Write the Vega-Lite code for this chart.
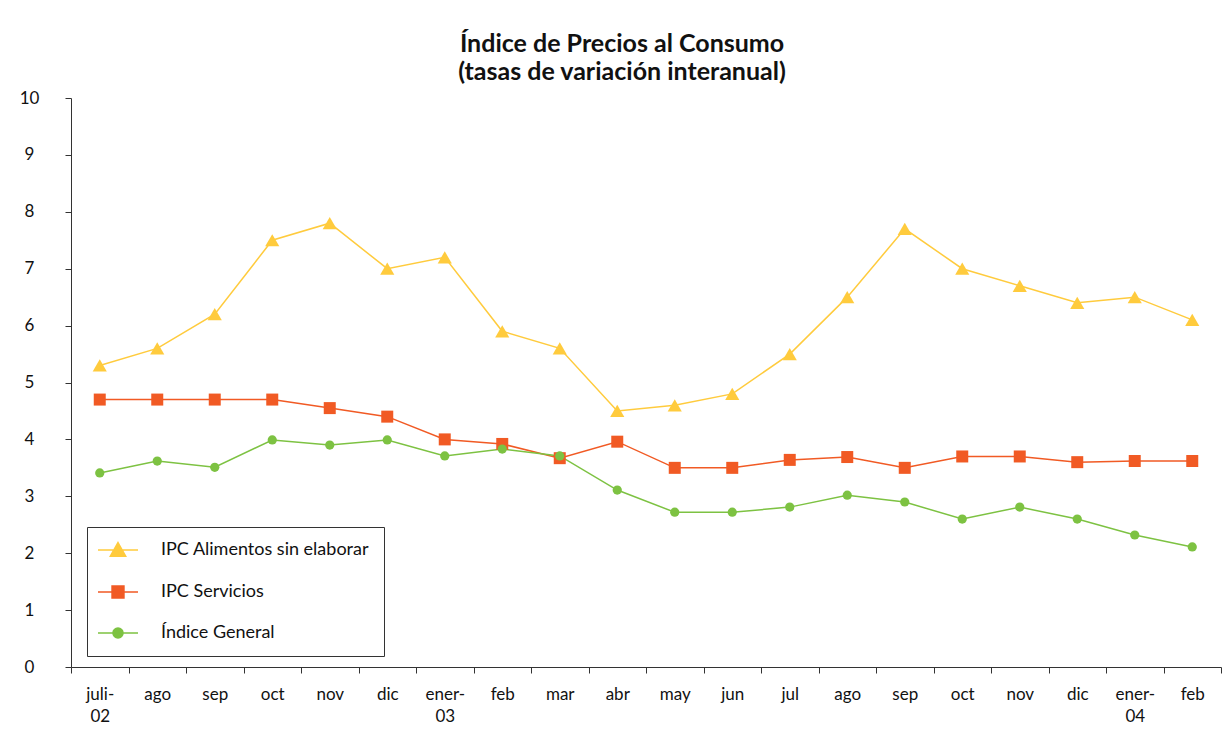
{
  "$schema": "https://vega.github.io/schema/vega-lite/v6.json",
  "width": 1150,
  "height": 569,
  "autosize": {"type": "none"},
  "padding": {"left": 71, "top": 98, "right": 5, "bottom": 62},
  "background": "white",
  "title": {
    "text": ["Índice de Precios al Consumo", "(tasas de variación interanual)"],
    "font": "Lato", "fontSize": 25, "fontWeight": "bold", "color": "#111",
    "lineHeight": 28, "anchor": "middle", "dx": -24, "offset": 4
  },
  "data": {"values": [
    {"mes": "juli-02", "serie": "IPC Alimentos sin elaborar", "v": 5.3},
    {"mes": "ago-02", "serie": "IPC Alimentos sin elaborar", "v": 5.6},
    {"mes": "sep-02", "serie": "IPC Alimentos sin elaborar", "v": 6.2},
    {"mes": "oct-02", "serie": "IPC Alimentos sin elaborar", "v": 7.5},
    {"mes": "nov-02", "serie": "IPC Alimentos sin elaborar", "v": 7.8},
    {"mes": "dic-02", "serie": "IPC Alimentos sin elaborar", "v": 7.0},
    {"mes": "ener-03", "serie": "IPC Alimentos sin elaborar", "v": 7.2},
    {"mes": "feb-03", "serie": "IPC Alimentos sin elaborar", "v": 5.9},
    {"mes": "mar-03", "serie": "IPC Alimentos sin elaborar", "v": 5.6},
    {"mes": "abr-03", "serie": "IPC Alimentos sin elaborar", "v": 4.5},
    {"mes": "may-03", "serie": "IPC Alimentos sin elaborar", "v": 4.6},
    {"mes": "jun-03", "serie": "IPC Alimentos sin elaborar", "v": 4.8},
    {"mes": "jul-03", "serie": "IPC Alimentos sin elaborar", "v": 5.5},
    {"mes": "ago-03", "serie": "IPC Alimentos sin elaborar", "v": 6.5},
    {"mes": "sep-03", "serie": "IPC Alimentos sin elaborar", "v": 7.7},
    {"mes": "oct-03", "serie": "IPC Alimentos sin elaborar", "v": 7.0},
    {"mes": "nov-03", "serie": "IPC Alimentos sin elaborar", "v": 6.7},
    {"mes": "dic-03", "serie": "IPC Alimentos sin elaborar", "v": 6.4},
    {"mes": "ener-04", "serie": "IPC Alimentos sin elaborar", "v": 6.5},
    {"mes": "feb-04", "serie": "IPC Alimentos sin elaborar", "v": 6.1},
    {"mes": "juli-02", "serie": "IPC Servicios", "v": 4.7},
    {"mes": "ago-02", "serie": "IPC Servicios", "v": 4.7},
    {"mes": "sep-02", "serie": "IPC Servicios", "v": 4.7},
    {"mes": "oct-02", "serie": "IPC Servicios", "v": 4.7},
    {"mes": "nov-02", "serie": "IPC Servicios", "v": 4.55},
    {"mes": "dic-02", "serie": "IPC Servicios", "v": 4.4},
    {"mes": "ener-03", "serie": "IPC Servicios", "v": 4.0},
    {"mes": "feb-03", "serie": "IPC Servicios", "v": 3.92},
    {"mes": "mar-03", "serie": "IPC Servicios", "v": 3.67},
    {"mes": "abr-03", "serie": "IPC Servicios", "v": 3.96},
    {"mes": "may-03", "serie": "IPC Servicios", "v": 3.5},
    {"mes": "jun-03", "serie": "IPC Servicios", "v": 3.5},
    {"mes": "jul-03", "serie": "IPC Servicios", "v": 3.64},
    {"mes": "ago-03", "serie": "IPC Servicios", "v": 3.69},
    {"mes": "sep-03", "serie": "IPC Servicios", "v": 3.5},
    {"mes": "oct-03", "serie": "IPC Servicios", "v": 3.7},
    {"mes": "nov-03", "serie": "IPC Servicios", "v": 3.7},
    {"mes": "dic-03", "serie": "IPC Servicios", "v": 3.6},
    {"mes": "ener-04", "serie": "IPC Servicios", "v": 3.62},
    {"mes": "feb-04", "serie": "IPC Servicios", "v": 3.62},
    {"mes": "juli-02", "serie": "Índice General", "v": 3.41},
    {"mes": "ago-02", "serie": "Índice General", "v": 3.62},
    {"mes": "sep-02", "serie": "Índice General", "v": 3.51},
    {"mes": "oct-02", "serie": "Índice General", "v": 3.99},
    {"mes": "nov-02", "serie": "Índice General", "v": 3.9},
    {"mes": "dic-02", "serie": "Índice General", "v": 3.99},
    {"mes": "ener-03", "serie": "Índice General", "v": 3.71},
    {"mes": "feb-03", "serie": "Índice General", "v": 3.83},
    {"mes": "mar-03", "serie": "Índice General", "v": 3.71},
    {"mes": "abr-03", "serie": "Índice General", "v": 3.11},
    {"mes": "may-03", "serie": "Índice General", "v": 2.72},
    {"mes": "jun-03", "serie": "Índice General", "v": 2.72},
    {"mes": "jul-03", "serie": "Índice General", "v": 2.81},
    {"mes": "ago-03", "serie": "Índice General", "v": 3.02},
    {"mes": "sep-03", "serie": "Índice General", "v": 2.9},
    {"mes": "oct-03", "serie": "Índice General", "v": 2.6},
    {"mes": "nov-03", "serie": "Índice General", "v": 2.81},
    {"mes": "dic-03", "serie": "Índice General", "v": 2.6},
    {"mes": "ener-04", "serie": "Índice General", "v": 2.32},
    {"mes": "feb-04", "serie": "Índice General", "v": 2.11}
  ]},
  "encoding": {
    "x": {
      "field": "mes", "type": "nominal", "sort": null, "title": null,
      "scale": {"paddingInner": 0, "paddingOuter": 0},
      "axis": {
        "labelAngle": 0, "tickBand": "extent", "tickSize": 6,
        "domainColor": "#333", "tickColor": "#333",
        "labelFont": "Lato", "labelFontSize": 17, "labelColor": "#111",
        "labelPadding": 13, "labelLineHeight": 22, "labelBaseline": "top",
        "labelExpr": "!isValid(datum.value) ? '' : datum.value == 'juli-02' ? ['juli-', '02'] : datum.value == 'ener-03' ? ['ener-', '03'] : datum.value == 'ener-04' ? ['ener-', '04'] : split(datum.value, '-')[0]"
      }
    },
    "y": {
      "field": "v", "type": "quantitative", "title": null,
      "scale": {"domain": [0, 10], "nice": false, "zero": true},
      "axis": {
        "values": [0, 1, 2, 3, 4, 5, 6, 7, 8, 9, 10], "grid": false,
        "tickSize": 6, "domainColor": "#333", "tickColor": "#333",
        "labelFont": "Lato", "labelFontSize": 17, "labelColor": "#111",
        "labelAlign": "center", "labelPadding": 36
      }
    }
  },
  "layer": [
    {
      "mark": {"type": "point", "filled": true, "opacity": 1, "strokeWidth": 1.5, "size": 0},
      "encoding": {
        "fill": {
          "field": "serie", "type": "nominal", "title": null,
          "scale": {
            "domain": ["IPC Alimentos sin elaborar", "IPC Servicios", "Índice General"],
            "range": ["#FFCB3D", "#F15A24", "#7DC242"]
          },
          "legend": {
            "orient": "none", "legendX": 16, "legendY": 429,
            "strokeColor": "#333", "fillColor": "white", "padding": 14,
            "symbolOffset": 8, "labelOffset": 34, "rowPadding": 23, "labelLimit": 400,
            "labelFont": "Lato", "labelFontSize": 18, "labelColor": "#111",
            "symbolSize": 196, "symbolStrokeWidth": 1.5
          }
        },
        "stroke": {
          "field": "serie", "type": "nominal", "title": null,
          "scale": {
            "domain": ["IPC Alimentos sin elaborar", "IPC Servicios", "Índice General"],
            "range": ["#FFCB3D", "#F15A24", "#7DC242"]
          }
        },
        "shape": {
          "field": "serie", "type": "nominal", "title": null,
          "scale": {
            "domain": ["IPC Alimentos sin elaborar", "IPC Servicios", "Índice General"],
            "range": [
              "M-2.86,0H2.86M0,-1.05L1.1,0.9L-1.1,0.9Z",
              "M-2.86,0H2.86M-0.85,-0.85H0.85V0.85H-0.85Z",
              "M-2.86,0H2.86M0.72,0A0.72,0.72,0,1,1,-0.72,0A0.72,0.72,0,1,1,0.72,0Z"
            ]
          }
        }
      }
    },
    {
      "encoding": {
        "color": {
          "field": "serie", "type": "nominal", "legend": null,
          "scale": {
            "domain": ["IPC Alimentos sin elaborar", "IPC Servicios", "Índice General"],
            "range": ["#FFCB3D", "#F15A24", "#7DC242"]
          }
        }
      },
      "layer": [
        {"mark": {"type": "line", "strokeWidth": 1.5}},
        {
          "transform": [{"filter": "datum.serie == 'IPC Alimentos sin elaborar'"}],
          "mark": {"type": "point", "filled": true, "opacity": 1, "shape": "triangle-up", "size": 200}
        },
        {
          "transform": [{"filter": "datum.serie == 'IPC Servicios'"}],
          "mark": {"type": "point", "filled": true, "opacity": 1, "shape": "square", "size": 144}
        },
        {
          "transform": [{"filter": "datum.serie == 'Índice General'"}],
          "mark": {"type": "point", "filled": true, "opacity": 1, "shape": "circle", "size": 85}
        }
      ]
    }
  ],
  "config": {"view": {"stroke": null}}
}
